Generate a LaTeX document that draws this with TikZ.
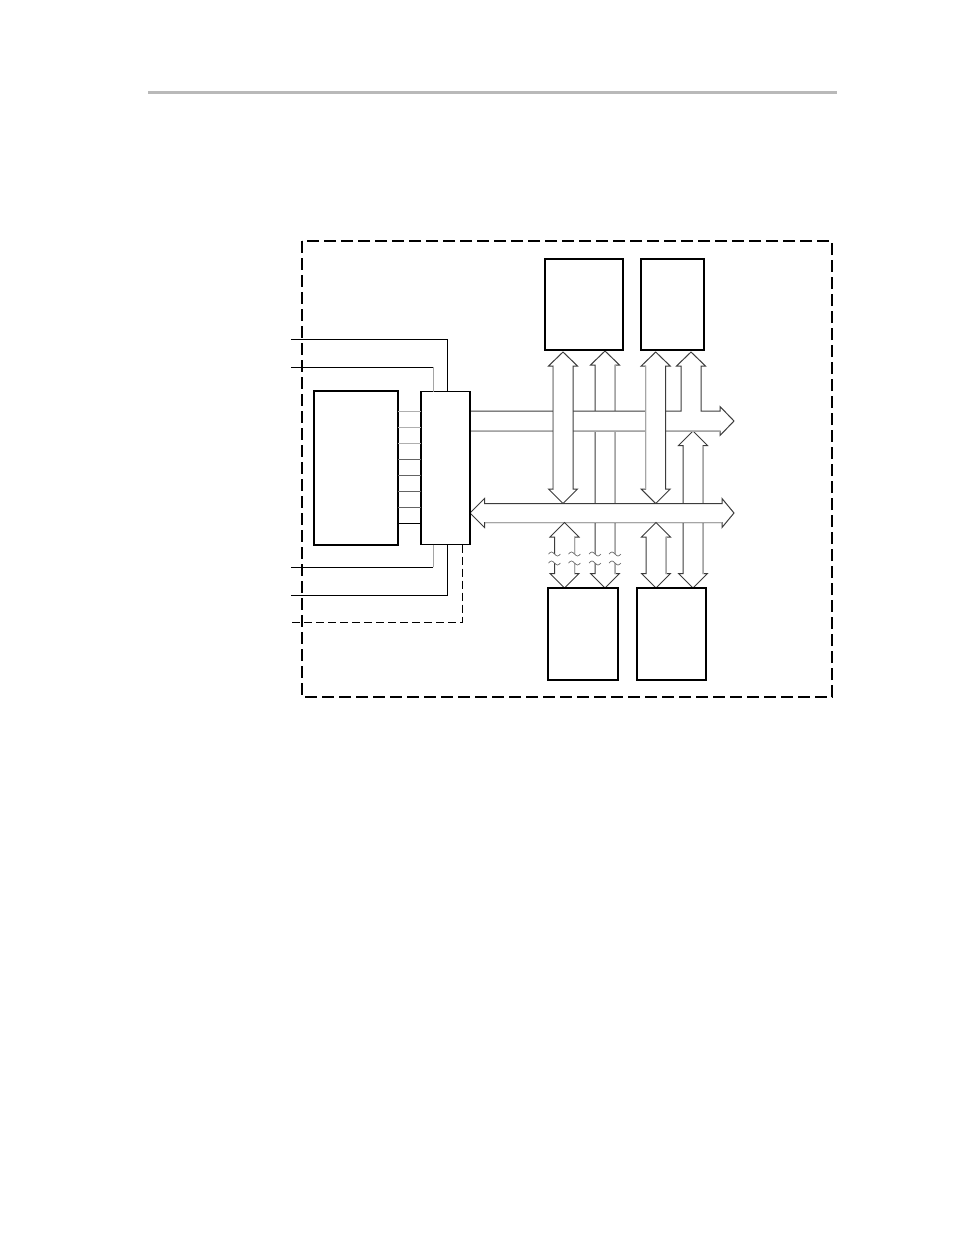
\documentclass[tikz,border=0pt]{standalone}
\usetikzlibrary{positioning}

\begin{document}
\begin{tikzpicture}[x=1pt, y=-1pt,
    unitbox/.style={draw, line width=1.7pt, fill=white, inner sep=0pt, outer sep=0pt},
    hollow/.style={fill=white, draw=busdark, line width=1pt},
    shadeedge/.style={draw=busgray, line width=1pt},
    wire/.style={draw=black, line width=0.8pt},
    wave/.style={draw=wavegray, line width=0.7pt}]

% Define colors
\definecolor{rulegray}{RGB}{185, 185, 185}
\definecolor{busdark}{RGB}{60, 60, 60}
\definecolor{busgray}{RGB}{165, 165, 165}
\definecolor{wavegray}{RGB}{110, 110, 110}
\definecolor{linkgray}{RGB}{175, 175, 175}
\definecolor{linkdark}{RGB}{100, 100, 100}

% Page size
\useasboundingbox (0,0) rectangle (954,1235);

% Header rule
\draw[rulegray, line width=3pt] (148,92) -- (837,92);

% Long bus from device A down to device C (under both buses)
\draw[hollow] (595,554) -- (595,365) -- (590.5,365) -- (605,351) -- (619.5,365) -- (615,365) -- (615,554);
\draw[shadeedge] (615,365) -- (615,554);
\draw[hollow] (595,563) -- (595,573.5) -- (590.5,573.5) -- (605,588) -- (619.5,573.5) -- (615,573.5) -- (615,563);
\draw[shadeedge] (615,563) -- (615,573.5);

% Bus from upper bus down to device D (under lower bus)
\draw[hollow] (693,431) -- (707.5,445.5) -- (703,445.5) -- (703,573.5) -- (707.5,573.5) -- (693,588) -- (678.5,573.5) -- (683,573.5) -- (683,445.5) -- (678.5,445.5) -- cycle;
\draw[shadeedge] (703,445.5) -- (703,573.5);

% Upper bus with branch to device B
\draw[hollow] (470,411) -- (681,411) -- (681,366) -- (676.5,366) -- (691,352) -- (705.5,366) -- (701,366) -- (701,411) -- (720,411) -- (720,406.5) -- (734,421) -- (720,435.5) -- (720,431) -- (470,431);
\draw[shadeedge] (470,431) -- (720,431);

% Double arrows from devices A and B to lower bus
\draw[hollow] (563,352) -- (577.5,366) -- (573,366) -- (573,489) -- (577.5,489) -- (563,503.5) -- (548.5,489) -- (553,489) -- (553,366) -- (548.5,366) -- cycle;
\draw[shadeedge] (553,366) -- (553,489);
\draw[hollow] (655.7,352) -- (670.2,366) -- (665.7,366) -- (665.7,489) -- (670.2,489) -- (655.7,503.5) -- (641.2,489) -- (645.7,489) -- (645.7,366) -- (641.2,366) -- cycle;
\draw[shadeedge] (645.7,366) -- (645.7,489);

% Lower bus
\draw[hollow] (470,513) -- (484.5,498.5) -- (484.5,503.5) -- (722,503.5) -- (722,498.5) -- (734,513) -- (722,527.5) -- (722,522.5) -- (484.5,522.5) -- (484.5,527.5) -- cycle;
\draw[shadeedge] (484.5,522.5) -- (722,522.5);

% Double arrows from lower bus to devices C and D
\draw[hollow] (554.5,554) -- (554.5,537) -- (550,537) -- (564.5,522.5) -- (579,537) -- (574.5,537) -- (574.5,554);
\draw[shadeedge] (574.5,537) -- (574.5,554);
\draw[hollow] (554.5,563) -- (554.5,573.5) -- (550,573.5) -- (564.5,588) -- (579,573.5) -- (574.5,573.5) -- (574.5,563);
\draw[shadeedge] (574.5,563) -- (574.5,573.5);
\draw[hollow] (656,522.5) -- (670.5,537) -- (666,537) -- (666,573.5) -- (670.5,573.5) -- (656,588) -- (641.5,573.5) -- (646,573.5) -- (646,537) -- (641.5,537) -- cycle;
\draw[shadeedge] (666,537) -- (666,573.5);

% Break marks
\foreach \x in {554.5,574.5,595,615} {
    \draw[wave] (\x-6,554) sin (\x-3,552) cos (\x,554) sin (\x+3,556) cos (\x+6,554);
    \draw[wave] (\x-6,563) sin (\x-3,561) cos (\x,563) sin (\x+3,565) cos (\x+6,563);
}

% Units
\node[unitbox, minimum width=84pt, minimum height=154pt] (mem) at (356,468) {};
\node[unitbox, minimum width=49pt, minimum height=153pt, right=23pt of mem] (port) {};
\node[unitbox, minimum width=77.7pt, minimum height=91pt] (devA) at (583.8,304.5) {};
\node[unitbox, minimum width=63.3pt, minimum height=91pt, right=18.3pt of devA] (devB) {};
\node[unitbox, minimum width=70pt, minimum height=92.3pt] (devC) at (583.3,633.8) {};
\node[unitbox, minimum width=69.3pt, minimum height=92.3pt, right=18.4pt of devC] (devD) {};

% Links between memory and port
\foreach \y in {411.7,427.7,443.7}
    \draw[wire, draw=linkgray] (mem.east |- 0,\y) -- (port.west |- 0,\y);
\foreach \y in {459.7,475.7,491.7,507.7}
    \draw[wire, draw=linkdark] (mem.east |- 0,\y) -- (port.west |- 0,\y);
\draw[wire] (mem.east |- 0,523.7) -- (port.west |- 0,523.7);

% Control lines
\draw[wire] (291,339) -| (port.north -| 447,0);
\draw[wire] (291,367) -- (433,367);
\draw[wire, draw=busgray] (433,367) -- (port.north -| 433,0);
\draw[wire, draw=busgray] (port.south -| 433,0) -- (433,567);
\draw[wire] (433,567) -- (291,567);
\draw[wire] (port.south -| 447,0) |- (291,595);
\draw[wire, dash pattern=on 8pt off 4pt] (port.south -| 462,0) |- (291,622);

% Outer boundary
\draw[line width=2pt, dash pattern=on 12pt off 5pt] (302,241) rectangle (832,697);

\end{tikzpicture}
\end{document}
